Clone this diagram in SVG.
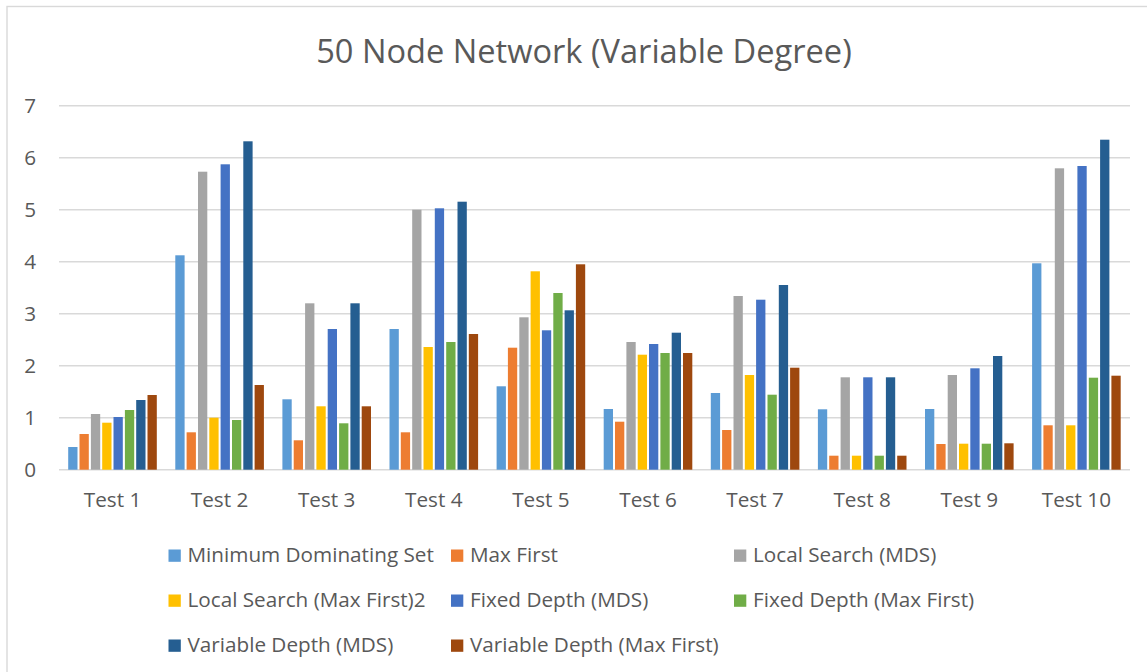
<svg xmlns="http://www.w3.org/2000/svg" width="1147" height="672" viewBox="0 0 1147 672">
  <style>
    text { font-family: "Open Sans", "DejaVu Sans", sans-serif; fill: #595959; }
    .title { font-size: 32.6px; }
    .lbl { font-size: 20.7px; }
    .grid { stroke: #D9D9D9; stroke-width: 1.4; fill: none; }
    .s1 { fill: #5B9BD5; } .s2 { fill: #ED7D31; } .s3 { fill: #A5A5A5; } .s4 { fill: #FFC000; }
    .s5 { fill: #4472C4; } .s6 { fill: #70AD47; } .s7 { fill: #255E91; } .s8 { fill: #9E480E; }
  </style>

  <!-- chart area -->
  <rect x="0" y="0" width="1147" height="672" fill="#FFFFFF"/>
  <rect x="7" y="6.5" width="1200" height="700" fill="#FFFFFF" stroke="#D9D9D9" stroke-width="1.4"/>

  <text class="title" x="584" y="62.7" text-anchor="middle">50 Node Network (Variable Degree)</text>

  <!-- value axis gridlines -->
  <g id="gridlines" class="grid">
    <line x1="59" y1="105.7" x2="1130" y2="105.7"/>
    <line x1="59" y1="157.7" x2="1130" y2="157.7"/>
    <line x1="59" y1="209.7" x2="1130" y2="209.7"/>
    <line x1="59" y1="261.7" x2="1130" y2="261.7"/>
    <line x1="59" y1="313.7" x2="1130" y2="313.7"/>
    <line x1="59" y1="365.7" x2="1130" y2="365.7"/>
    <line x1="59" y1="417.7" x2="1130" y2="417.7"/>
    <line x1="59" y1="469.7" x2="1130" y2="469.7"/>
  </g>

  <g id="value-axis" class="lbl" text-anchor="end">
    <text x="36" y="113.3">7</text>
    <text x="36" y="165.3">6</text>
    <text x="36" y="217.3">5</text>
    <text x="36" y="269.3">4</text>
    <text x="36" y="321.3">3</text>
    <text x="36" y="373.3">2</text>
    <text x="36" y="425.3">1</text>
    <text x="36" y="477.3">0</text>
  </g>

  <g id="category-axis" class="lbl" text-anchor="middle">
    <text x="112.5" y="507.3">Test 1</text>
    <text x="219.6" y="507.3">Test 2</text>
    <text x="326.7" y="507.3">Test 3</text>
    <text x="433.8" y="507.3">Test 4</text>
    <text x="540.9" y="507.3">Test 5</text>
    <text x="648.0" y="507.3">Test 6</text>
    <text x="755.1" y="507.3">Test 7</text>
    <text x="862.2" y="507.3">Test 8</text>
    <text x="969.3" y="507.3">Test 9</text>
    <text x="1076.4" y="507.3">Test 10</text>
  </g>

  <!-- Minimum Dominating Set -->
  <g id="series-mds" class="s1">
    <rect x="68.2" y="447" width="9.3" height="22.7"/>
    <rect x="175.3" y="255.3" width="9.3" height="214.4"/>
    <rect x="282.4" y="399.3" width="9.3" height="70.4"/>
    <rect x="389.5" y="329" width="9.3" height="140.7"/>
    <rect x="496.6" y="386.3" width="9.3" height="83.4"/>
    <rect x="603.7" y="409" width="9.3" height="60.7"/>
    <rect x="710.8" y="393" width="9.3" height="76.7"/>
    <rect x="817.9" y="409.3" width="9.3" height="60.4"/>
    <rect x="925.0" y="409" width="9.3" height="60.7"/>
    <rect x="1032.1" y="263.3" width="9.3" height="206.4"/>
  </g>
  <!-- Max First -->
  <g id="series-max-first" class="s2">
    <rect x="79.5" y="434" width="9.3" height="35.7"/>
    <rect x="186.6" y="432.3" width="9.3" height="37.4"/>
    <rect x="293.7" y="440.3" width="9.3" height="29.4"/>
    <rect x="400.8" y="432.3" width="9.3" height="37.4"/>
    <rect x="507.9" y="347.7" width="9.3" height="122"/>
    <rect x="615.0" y="421.7" width="9.3" height="48"/>
    <rect x="722.1" y="430" width="9.3" height="39.7"/>
    <rect x="829.2" y="455.7" width="9.3" height="14"/>
    <rect x="936.3" y="444" width="9.3" height="25.7"/>
    <rect x="1043.4" y="425.3" width="9.3" height="44.4"/>
  </g>
  <!-- Local Search (MDS) -->
  <g id="series-ls-mds" class="s3">
    <rect x="90.9" y="414" width="9.3" height="55.7"/>
    <rect x="198.0" y="171.7" width="9.3" height="298"/>
    <rect x="305.1" y="303.3" width="9.3" height="166.4"/>
    <rect x="412.2" y="209.7" width="9.3" height="260"/>
    <rect x="519.3" y="317.3" width="9.3" height="152.4"/>
    <rect x="626.4" y="342" width="9.3" height="127.7"/>
    <rect x="733.5" y="296" width="9.3" height="173.7"/>
    <rect x="840.6" y="377.3" width="9.3" height="92.4"/>
    <rect x="947.7" y="375" width="9.3" height="94.7"/>
    <rect x="1054.8" y="168.3" width="9.3" height="301.4"/>
  </g>
  <!-- Local Search (Max First)2 -->
  <g id="series-ls-mf" class="s4">
    <rect x="102.2" y="422.7" width="9.3" height="47"/>
    <rect x="209.3" y="417.7" width="9.3" height="52"/>
    <rect x="316.4" y="406.3" width="9.3" height="63.4"/>
    <rect x="423.5" y="347" width="9.3" height="122.7"/>
    <rect x="530.6" y="271.3" width="9.3" height="198.4"/>
    <rect x="637.7" y="354.7" width="9.3" height="115"/>
    <rect x="744.8" y="375" width="9.3" height="94.7"/>
    <rect x="851.9" y="455.7" width="9.3" height="14"/>
    <rect x="959.0" y="443.7" width="9.3" height="26"/>
    <rect x="1066.1" y="425.3" width="9.3" height="44.4"/>
  </g>
  <!-- Fixed Depth (MDS) -->
  <g id="series-fd-mds" class="s5">
    <rect x="113.5" y="417" width="9.3" height="52.7"/>
    <rect x="220.6" y="164.3" width="9.3" height="305.4"/>
    <rect x="327.7" y="329" width="9.3" height="140.7"/>
    <rect x="434.8" y="208.3" width="9.3" height="261.4"/>
    <rect x="541.9" y="330.3" width="9.3" height="139.4"/>
    <rect x="649.0" y="344" width="9.3" height="125.7"/>
    <rect x="756.1" y="299.7" width="9.3" height="170"/>
    <rect x="863.2" y="377.3" width="9.3" height="92.4"/>
    <rect x="970.3" y="368.3" width="9.3" height="101.4"/>
    <rect x="1077.4" y="166" width="9.3" height="303.7"/>
  </g>
  <!-- Fixed Depth (Max First) -->
  <g id="series-fd-mf" class="s6">
    <rect x="124.9" y="410" width="9.3" height="59.7"/>
    <rect x="232.0" y="420" width="9.3" height="49.7"/>
    <rect x="339.1" y="423.3" width="9.3" height="46.4"/>
    <rect x="446.2" y="342" width="9.3" height="127.7"/>
    <rect x="553.3" y="293" width="9.3" height="176.7"/>
    <rect x="660.4" y="353" width="9.3" height="116.7"/>
    <rect x="767.5" y="394.7" width="9.3" height="75"/>
    <rect x="874.6" y="455.7" width="9.3" height="14"/>
    <rect x="981.7" y="443.7" width="9.3" height="26"/>
    <rect x="1088.8" y="377.7" width="9.3" height="92"/>
  </g>
  <!-- Variable Depth (MDS) -->
  <g id="series-vd-mds" class="s7">
    <rect x="136.2" y="400" width="9.3" height="69.7"/>
    <rect x="243.3" y="141.3" width="9.3" height="328.4"/>
    <rect x="350.4" y="303.3" width="9.3" height="166.4"/>
    <rect x="457.5" y="201.7" width="9.3" height="268"/>
    <rect x="564.6" y="310.3" width="9.3" height="159.4"/>
    <rect x="671.7" y="332.7" width="9.3" height="137"/>
    <rect x="778.8" y="285" width="9.3" height="184.7"/>
    <rect x="885.9" y="377.3" width="9.3" height="92.4"/>
    <rect x="993.0" y="356" width="9.3" height="113.7"/>
    <rect x="1100.1" y="139.7" width="9.3" height="330"/>
  </g>
  <!-- Variable Depth (Max First) -->
  <g id="series-vd-mf" class="s8">
    <rect x="147.5" y="395" width="9.3" height="74.7"/>
    <rect x="254.6" y="385" width="9.3" height="84.7"/>
    <rect x="361.7" y="406.3" width="9.3" height="63.4"/>
    <rect x="468.8" y="334" width="9.3" height="135.7"/>
    <rect x="575.9" y="264.3" width="9.3" height="205.4"/>
    <rect x="683.0" y="353" width="9.3" height="116.7"/>
    <rect x="790.1" y="367.7" width="9.3" height="102"/>
    <rect x="897.2" y="455.7" width="9.3" height="14"/>
    <rect x="1004.3" y="443.3" width="9.3" height="26.4"/>
    <rect x="1111.4" y="375.7" width="9.3" height="94"/>
  </g>

  <!-- legend -->
  <g id="legend" class="lbl">
    <rect class="s1" x="168.5" y="549.5" width="12.3" height="12.3"/>
    <text x="187.5" y="561.7">Minimum Dominating Set</text>
    <rect class="s2" x="451" y="549.5" width="12.3" height="12.3"/>
    <text x="470" y="561.7">Max First</text>
    <rect class="s3" x="734" y="549.5" width="12.3" height="12.3"/>
    <text x="753" y="561.7">Local Search (MDS)</text>

    <rect class="s4" x="168.5" y="594.5" width="12.3" height="12.3"/>
    <text x="187.5" y="606.7">Local Search (Max First)2</text>
    <rect class="s5" x="451" y="594.5" width="12.3" height="12.3"/>
    <text x="470" y="606.7">Fixed Depth (MDS)</text>
    <rect class="s6" x="734" y="594.5" width="12.3" height="12.3"/>
    <text x="753" y="606.7">Fixed Depth (Max First)</text>

    <rect class="s7" x="168.5" y="639.5" width="12.3" height="12.3"/>
    <text x="187.5" y="651.7">Variable Depth (MDS)</text>
    <rect class="s8" x="451" y="639.5" width="12.3" height="12.3"/>
    <text x="470" y="651.7">Variable Depth (Max First)</text>
  </g>
</svg>
